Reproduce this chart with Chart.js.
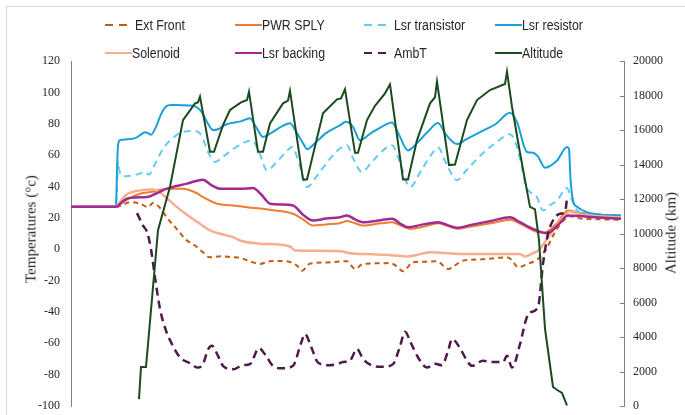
<!DOCTYPE html>
<html>
<head>
<meta charset="utf-8">
<script src="https://cdn.jsdelivr.net/npm/chart.js@4.4.1/dist/chart.umd.min.js"></script>
<style>
  body { margin: 0; background: #fff; }
  #wrap { position: relative; width: 685px; height: 415px; overflow: hidden; }
  #frame { position: absolute; left: 6px; top: 6px; width: 720px; height: 440px; border: 1px solid #d9d9d9; }
  #chart-box { position: absolute; left: 0; top: 0; width: 685px; height: 415px; }
  .leg { position: absolute; font-family: "Liberation Sans", Arial, sans-serif; font-size: 14px; color: #262626; line-height: 16px; white-space: nowrap; transform: scaleX(0.88); transform-origin: left center; }
  .sample { position: absolute; height: 2px; }
  .axis-title { position: absolute; font-family: "Liberation Serif", serif; font-size: 15px; color: #262626; white-space: nowrap; transform: translate(-50%, -50%) rotate(-90deg); }
</style>
</head>
<body>
<div id="wrap">
  <div id="frame"></div>
  <div id="chart-box"><canvas id="chart"></canvas></div>
  <div id="legend"></div>
  <div class="axis-title" style="left:31px; top:229px;">Temperatures (°c)</div>
  <div class="axis-title" style="left:671px; top:233px;">Altitude (km)</div>
</div>
<script>
// series: [time sample, value]
const extFront = [[0,27],[45,27],[50,27.8],[59,30],[70,28.8],[77,26.8],[82,29.4],[88,27],[96,20],[107,12],[115,6],[124,2.3],[132,-2],[139,-5.2],[150,-4.5],[160,-5],[169,-5.5],[180,-8],[189,-9.4],[199,-7.7],[210,-7.5],[219,-8.2],[226,-10.5],[231,-13.7],[239,-9.2],[255,-8.5],[269,-7.9],[276,-7.7],[284,-12.6],[292,-9.4],[310,-9],[319,-8.8],[326,-11],[332,-14.1],[342,-8.3],[355,-8],[366,-7.7],[377,-12.6],[392,-7.3],[410,-6.5],[436,-5.2],[441,-7],[447,-11.5],[458,-9],[466,-6.8],[475,0],[485,12],[492,18],[499,21],[510,19.5],[530,19],[550,18.8]];
const pwrSply = [[0,27],[45,27],[52,30],[60,33],[69,35.4],[80,36.5],[96,38.6],[112,38.6],[125,36],[132,33.2],[146,29],[160,28],[176,26.8],[200,25],[222,22.6],[232,19],[242,15.1],[255,15.8],[269,16.6],[276,17.9],[284,16.5],[292,15.1],[310,16.5],[321,17.2],[330,15],[339,13],[355,14.8],[367,16.6],[378,14.5],[386,13],[400,14.5],[420,16.5],[439,18.8],[450,16],[466,10.9],[473,10.5],[485,16],[497,24.7],[510,23],[530,22],[550,21.5]];
const lsrTransistor = [[0,27],[45,27],[46,40],[47,56],[48,52],[50,47],[55,46.5],[62,47],[68,48],[74,49.5],[78,47.5],[83,53],[92,64],[102,71],[112,74.8],[122,75.4],[130,73],[137,62],[144,55.6],[152,59],[165,65],[181,69.5],[188,62],[196,50.3],[205,55],[215,62],[221,65.2],[228,55],[236,39.6],[245,46],[258,57],[269,64.2],[276,66.3],[282,58],[291,49.2],[300,55],[312,63],[321,66.3],[328,57],[339,39.6],[350,50],[360,60],[367,64.8],[375,55],[386,43.9],[395,50],[410,60],[425,68],[439,73.3],[444,69],[450,55],[455,40],[460,36],[466,33],[472,24.7],[479,28],[486,31],[496,39],[500,33],[506,24.7],[516,22.6],[535,21.5],[550,20.9]];
const lsrResistor = [[0,27],[45,27],[46,50],[47,66],[49,69.5],[55,70],[65,71],[69,72.7],[74,74.5],[77,74],[80,73],[85,78],[90,86],[95,91],[100,92],[110,91.8],[122,91.5],[130,88],[137,80],[142,76],[147,76.5],[155,79.5],[170,81.5],[179,83.5],[185,78],[192,71.6],[200,74],[210,78],[219,80.3],[226,74],[233,66.5],[236,63.7],[243,67],[255,74],[269,79],[275,81.2],[282,78],[289,69.5],[300,74],[312,78.5],[321,80.8],[328,73],[337,63],[345,67],[357,75],[367,80.5],[375,73],[386,67],[395,70],[410,75],[425,80],[439,87],[446,81],[456,62],[462,61.5],[467,59],[474,52],[486,56.5],[496,65.2],[498,64],[499.5,45],[502,31],[506,27],[516,23.6],[530,22],[550,21.5]];
const solenoid = [[0,27],[45,27],[50,31],[56,35],[69,37.5],[80,38],[86,37.5],[95,33],[106,26.8],[118,21],[129,16.2],[139,12],[156,8.7],[162,7.7],[169,5.5],[189,3.5],[219,1.7],[224,-0.9],[240,-1],[269,-1.3],[279,-2.6],[300,-3.2],[320,-3.8],[337,-4.7],[350,-3],[359,-2],[375,-2.5],[392,-3],[420,-3],[449,-3],[454,-4.7],[462,-2.5],[467,-0.9],[480,10],[490,19],[499,24],[510,22],[530,21],[550,20]];
const lsrBacking = [[0,27],[45,27],[50,29.5],[56,32.2],[65,33],[76,33.2],[85,35.5],[96,38.6],[116,41.8],[125,43.5],[132,44.3],[140,41],[149,38.6],[170,38.5],[182,39],[190,35],[199,29],[210,28.5],[222,27.9],[232,22],[242,18.3],[255,19.5],[269,20.4],[276,21.5],[284,19],[292,17.2],[310,18.5],[321,19.4],[330,16],[337,14],[350,15.5],[367,17.2],[378,15],[386,13.6],[400,15.5],[420,18],[439,20.4],[449,17.2],[462,13],[476,10.2],[488,16],[497,21.5],[520,20.5],[550,19.4]];
const ambT = [[66,23],[69,19],[72,15],[76,11],[80,0],[84,-18],[89,-38],[95,-52],[99,-58],[109,-69],[120,-73],[126,-75.5],[132,-73.3],[137,-64],[141,-61.6],[147,-68],[152,-74.4],[162,-76.6],[172,-74],[179,-73.3],[188,-63.1],[195,-68],[202,-74.4],[212,-76],[222,-74.4],[230,-60],[234,-54.1],[240,-62],[247,-72.3],[258,-74],[266,-73.3],[272,-72],[279,-71],[286,-63.7],[292,-70],[302,-74.4],[312,-75],[322,-73.3],[329,-62],[334,-52.6],[340,-60],[348,-70],[356,-75.5],[364,-73],[371,-74],[377,-65],[381,-57.3],[388,-62],[395,-70],[401,-74.4],[412,-71.2],[422,-72],[432,-72],[436,-68],[441,-75.5],[449,-60.6],[455,-45],[459,-40.3],[467,-37.1],[472,-9.4],[477,9.8],[482,18.3],[489,22.6],[494,23.6],[496,32.2]];
const altitude = [[68,400],[70,2263],[75,2263],[87,10194],[99,12707],[112,16577],[124,17546],[127,17600],[129,17933],[139,14737],[143,14737],[152,16286],[159,17157],[170,17600],[176,17737],[178,18219],[187,14737],[192,14737],[199,16383],[212,17546],[217,17700],[219,18277],[232,13136],[236,13136],[252,16964],[266,17776],[270,17834],[274,18358],[284,14679],[287,14679],[296,16577],[304,17400],[314,18126],[319,18648],[332,13136],[337,13136],[346,15417],[359,17546],[364,17900],[366,18800],[378,13966],[384,14000],[396,16577],[406,17737],[419,18317],[434,18664],[436,19379],[441,17349],[448,15000],[454,13095],[459,11547],[464,11395],[468,9614],[474,4490],[482,1102],[487,900],[491,754],[496,40]];

const tempTicks = [-100, 120, 20];       // min, max, step
const altTicks = [0, 20000, 2000];

const seriesInfo = [
  { label: 'Ext Front',      data: extFront,      color: '#C55A11', dash: [5, 4], width: 2,   axis: 'y' },
  { label: 'PWR SPLY',       data: pwrSply,       color: '#ED7D31', dash: [],     width: 2,   axis: 'y' },
  { label: 'Lsr transistor', data: lsrTransistor, color: '#61CBF3', dash: [7, 5], width: 2,   axis: 'y' },
  { label: 'Lsr resistor',   data: lsrResistor,   color: '#1AA0D8', dash: [],     width: 2,   axis: 'y' },
  { label: 'Solenoid',       data: solenoid,      color: '#F4B08E', dash: [],     width: 2.5, axis: 'y' },
  { label: 'Lsr backing',    data: lsrBacking,    color: '#A02B93', dash: [],     width: 2.5, axis: 'y' },
  { label: 'AmbT',           data: ambT,          color: '#4E1A4A', dash: [8, 5], width: 2.5, axis: 'y' },
  { label: 'Altitude',       data: altitude,      color: '#1B4A1F', dash: [],     width: 2,   axis: 'y2' }
];

// html legend, 4 columns x 2 rows
const legCols = [105, 235, 364, 495];
const legRows = [25, 53];
const legendEl = document.getElementById('legend');
seriesInfo.forEach((s, i) => {
  const x = legCols[i % 4], y = legRows[Math.floor(i / 4)];
  const sample = document.createElement('div');
  sample.className = 'sample';
  sample.style.left = x + 'px';
  sample.style.top = (y - 1) + 'px';
  let textX;
  if (s.dash.length) {
    sample.style.width = '22px';
    sample.style.background = `linear-gradient(to right, ${s.color} 0 8px, transparent 8px 14px, ${s.color} 14px 22px)`;
    textX = x + 30;
  } else {
    sample.style.width = '27px';
    sample.style.background = s.color;
    textX = x + 27;
  }
  legendEl.appendChild(sample);
  const t = document.createElement('div');
  t.className = 'leg';
  t.textContent = s.label;
  t.style.left = textX + 'px';
  t.style.top = (y - 8) + 'px';
  legendEl.appendChild(t);
});

// small inward tick marks on the right axis
const innerTicks = {
  id: 'innerTicks',
  afterDraw(chart) {
    const sc = chart.scales.y2;
    const ctx = chart.ctx;
    ctx.save();
    ctx.strokeStyle = '#7f7f7f';
    ctx.lineWidth = 1;
    sc.ticks.forEach((tk, i) => {
      const py = Math.round(sc.getPixelForTick(i)) + 0.5;
      ctx.beginPath();
      ctx.moveTo(sc.left - 4, py);
      ctx.lineTo(sc.left, py);
      ctx.stroke();
    });
    ctx.restore();
  }
};

Chart.defaults.font.family = 'Liberation Serif';
Chart.defaults.font.size = 12;
Chart.defaults.color = '#262626';
const tickFont = { family: 'Liberation Serif', size: 12 };

function drawChart() {
  const ctx = document.getElementById('chart').getContext('2d');
  new Chart(ctx, {
    type: 'line',
    data: {
      datasets: seriesInfo.map((s, i) => ({
        label: s.label,
        data: s.data.map(p => ({ x: p[0], y: p[1] })),
        borderColor: s.color,
        backgroundColor: s.color,
        borderWidth: s.width,
        borderDash: s.dash,
        pointRadius: 0,
        fill: false,
        tension: s.axis === 'y2' ? 0 : 0.3,
        cubicInterpolationMode: s.axis === 'y2' ? 'default' : 'monotone',
        yAxisID: s.axis,
        order: seriesInfo.length - 1 - i
      }))
    },
    options: {
      responsive: true,
      maintainAspectRatio: false,
      animation: false,
      layout: { padding: { top: 61, bottom: 9, left: 0, right: 0 } },
      plugins: { legend: { display: false }, tooltip: { enabled: false } },
      scales: {
        x: { type: 'linear', min: 0, max: 553, display: false },
        y: {
          position: 'left',
          min: tempTicks[0], max: tempTicks[1],
          ticks: { stepSize: tempTicks[2], padding: 0, font: tickFont, callback: v => String(v) },
          // transparent ticks only push the labels away from the axis line
          grid: { drawOnChartArea: false, drawTicks: true, tickLength: 11, tickColor: 'rgba(0,0,0,0)' },
          border: { display: true, color: '#7f7f7f', width: 1 },
          afterFit(scale) { scale.width = 71; }
        },
        y2: {
          position: 'right',
          min: altTicks[0], max: altTicks[1],
          ticks: { stepSize: altTicks[2], padding: 0, font: tickFont, callback: v => String(v) },
          grid: { drawOnChartArea: false, drawTicks: true, tickLength: 9, tickColor: 'rgba(0,0,0,0)' },
          border: { display: true, color: '#7f7f7f', width: 1 },
          afterFit(scale) { scale.width = 61; }
        }
      }
    },
    plugins: [innerTicks]
  });
}

document.fonts.load('12px "Liberation Serif"').then(drawChart, drawChart);
</script>
</body>
</html>
